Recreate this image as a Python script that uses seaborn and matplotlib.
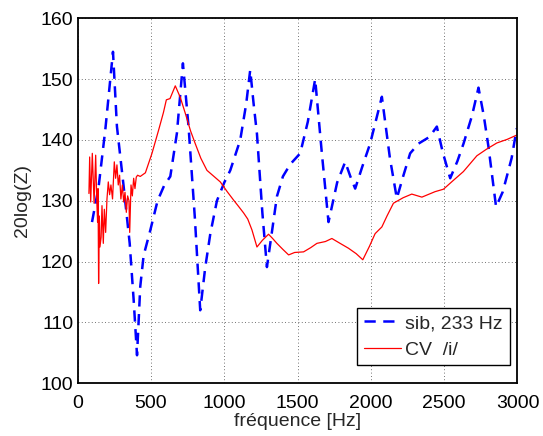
import numpy as np
import pandas as pd
import matplotlib
matplotlib.use("Agg")
import matplotlib.pyplot as plt
import seaborn as sns

# sib, 233 Hz (dashed blue)
sib_hz = [98, 143, 190, 241, 268, 314, 355, 382, 405, 427, 450, 496, 545, 590, 632, 677, 718,
          757, 800, 836, 870, 905, 950, 1000, 1041, 1109, 1150, 1177, 1200, 1223, 1260, 1291,
          1320, 1359, 1400, 1450, 1518, 1570, 1620, 1665, 1711, 1770, 1825, 1860, 1893, 1940,
          1995, 2075, 2130, 2177, 2220, 2268, 2325, 2400, 2450, 2490, 2541, 2590, 2632, 2690,
          2734, 2770, 2802, 2854, 2900, 2960, 2995]
sib_db = [126.5, 132.3, 142, 154.5, 142.2, 132.3, 123, 113.7, 104.6, 115.9, 121, 125.2, 130, 132.5,
          134, 141.1, 152.6, 142, 127, 112, 119, 124.6, 130, 133, 135, 140, 146, 151.5, 146, 141,
          128, 119.1, 124, 130.7, 134, 136, 137.8, 143, 150, 138, 126.5, 133, 136.4, 134, 132,
          135.5, 139.4, 147.1, 137, 130.4, 134, 137.8, 139.4, 140.5, 142.2, 138, 133.7, 136.5,
          139.4, 144, 148.6, 144, 138.9, 129, 131.5, 137, 141.9]

# CV /i/ (solid red)
cv_hz = [77, 82, 89, 100, 112, 123, 130, 136, 139, 143, 148, 152, 160, 166, 175, 182, 191, 200,
         209, 218, 227, 238, 250, 259, 268, 277, 286, 295, 305, 314, 323, 332, 341, 350, 355, 364,
         373, 382, 391, 400, 409, 427, 462, 507, 552, 585, 605, 630, 666, 700, 734, 770, 802,
         840, 882, 930, 973, 1020, 1064, 1100, 1132, 1160, 1189, 1223, 1260, 1302, 1330, 1359,
         1400, 1439, 1480, 1541, 1590, 1632, 1690, 1734, 1790, 1847, 1900, 1945, 1990, 2029,
         2075, 2110, 2154, 2220, 2279, 2348, 2438, 2495, 2560, 2631, 2723, 2790, 2859, 2930, 2995]
cv_db = [131.2, 137.2, 129.8, 137.8, 129.6, 137.5, 130.4, 126.5, 132, 116.4, 127.5, 122.4, 124,
         129.2, 123, 128.6, 124.8, 130.3, 133.1, 131, 132.6, 130.3, 136.4, 133.7, 135.9, 132.6,
         134.2, 130.3, 132.6, 129.8, 131.4, 128.1, 130.8, 130, 124.8, 132.6, 130.8, 133.7, 132,
         133.9, 134.2, 134, 134.6, 137.8, 141.6, 144.5, 146.6, 146.8, 148.9, 147, 144.4, 141.5,
         139.4, 137, 135, 134, 133.1, 131.5, 130.1, 129, 128, 127, 125.2, 122.4, 123.5, 124.5,
         123.8, 123, 122, 121.1, 121.5, 121.6, 122.3, 123, 123.3, 123.8, 123, 122.2, 121.3, 120.3,
         122.5, 124.6, 125.7, 127.5, 129.6, 130.5, 131.1, 130.6, 131.5, 131.9, 133.3, 134.8,
         137.4, 138.5, 139.5, 140.1, 140.8]

sib = pd.DataFrame({"f": sib_hz, "z": sib_db})
cv = pd.DataFrame({"f": cv_hz, "z": cv_db})

sns.set_style("white")
plt.rcParams["font.family"] = ["Liberation Sans", "DejaVu Sans"]

fig, ax = plt.subplots(figsize=(5.43, 4.36), dpi=100)
fig.subplots_adjust(left=0.143, right=0.953, top=0.958, bottom=0.121)

sns.lineplot(data=sib, x="f", y="z", ax=ax, color="#0000ff", linewidth=1.8,
             linestyle=(0, (4.5, 3)), label="sib, 233 Hz", estimator=None, sort=False)
sns.lineplot(data=cv, x="f", y="z", ax=ax, color="#ff0000", linewidth=0.9,
             label="CV  /i/", estimator=None, sort=False)

ax.set_xlim(0, 3000)
ax.set_ylim(100, 160)
ax.set_xticks(np.arange(0, 3001, 500))
ax.set_yticks(np.arange(100, 161, 10))
ax.grid(True, linestyle=(0, (1, 3)), color="#444444", linewidth=0.6)
ax.tick_params(direction="in", length=4, width=0.8, labelsize=14, colors="black")
ax.tick_params(axis="x", pad=8.5)
ax.tick_params(axis="y", pad=3)
for s in ax.spines.values():
    s.set_color("black")
    s.set_linewidth(1.3)
ax.set_xlabel("fréquence [Hz]", fontsize=14, labelpad=1)
ax.set_ylabel("20log(Z)", fontsize=14, labelpad=7)

leg = ax.legend(loc="lower right", bbox_to_anchor=(0.982, 0.049), borderaxespad=0,
                fontsize=14, frameon=True, fancybox=False, edgecolor="black", framealpha=1,
                handlelength=1.9, handletextpad=0.2, borderpad=0.35, labelspacing=0.45)
leg.get_frame().set_linewidth(1.0)

fig.savefig("out.png", dpi=100)
